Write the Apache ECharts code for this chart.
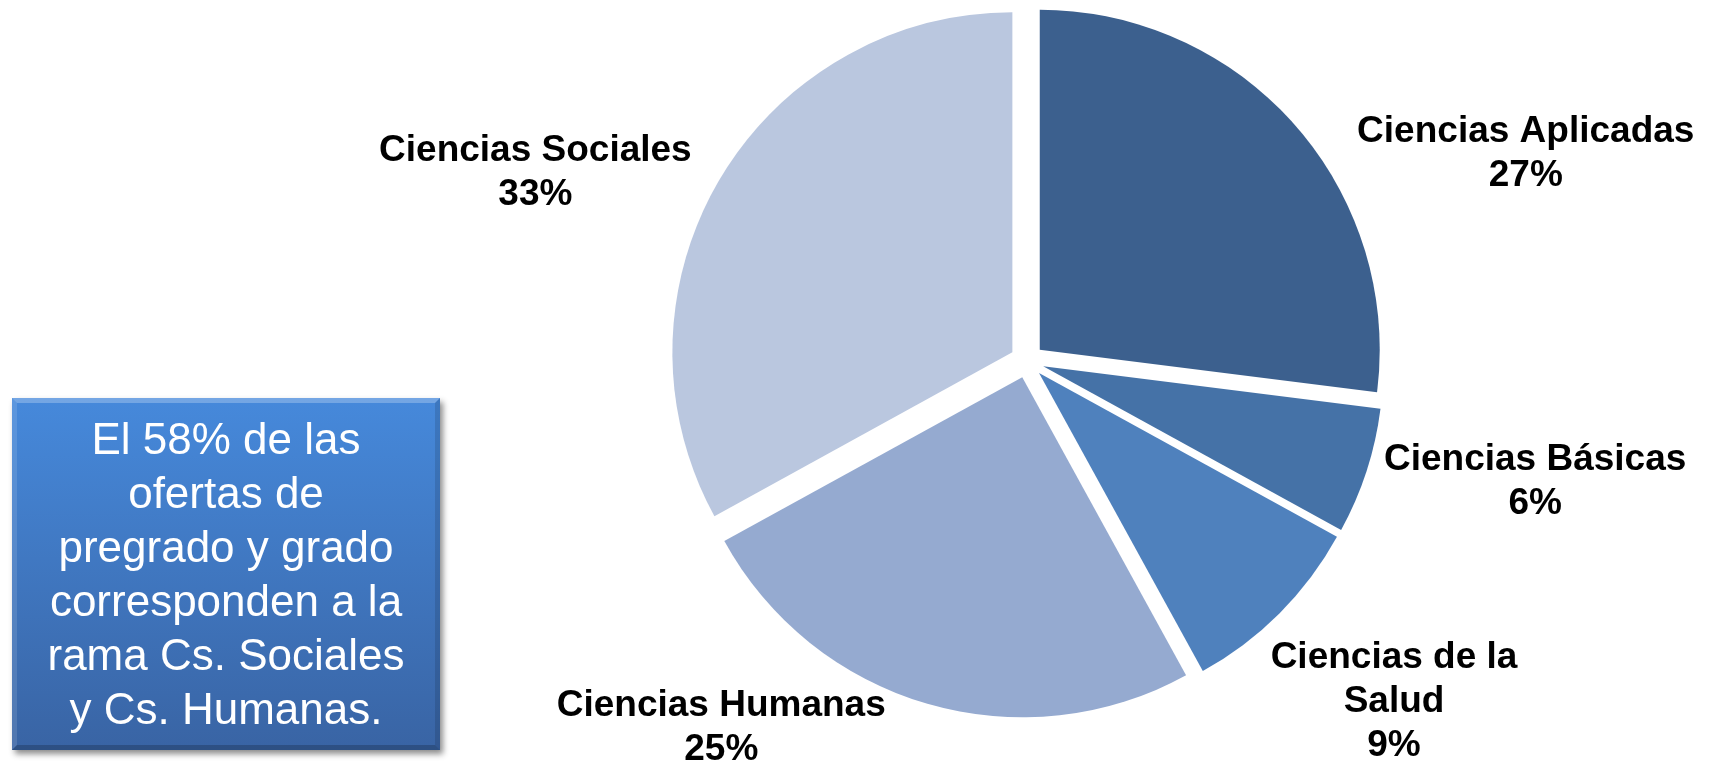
<!DOCTYPE html>
<html>
<head>
<meta charset="utf-8">
<script src="https://cdn.jsdelivr.net/npm/echarts@6/dist/echarts.min.js"></script>
<style>
html,body{margin:0;padding:0;background:#fff;}
#chart{width:1711px;height:761px;}
</style>
</head>
<body>
<div id="chart"></div>
<script>
// ---- data ----
const categories = ['Ciencias Aplicadas', 'Ciencias Básicas', 'Ciencias de la\nSalud', 'Ciencias Humanas', 'Ciencias Sociales'];
const values = [27, 6, 9, 25, 33];
const noteText = 'El 58% de las\nofertas de\npregrado y grado\ncorresponden a la\nrama Cs. Sociales\ny Cs. Humanas.';

// ---- styles / layout ----
const sliceColors = ['#3C608E', '#4572A7', '#4F81BD', '#95AAD0', '#BAC7DF'];
const labelAnchors = [[1513, 165], [1519, 477], [1382, 690], [726, 711], [550, 181]];
const LABEL_BOX = 360;

const chart = echarts.init(document.getElementById('chart'), null, {renderer: 'canvas'});
chart.setOption({
  animation: false,
  backgroundColor: '#ffffff',
  series: [{
    type: 'pie',
    center: [1027, 361],
    radius: 340,
    startAngle: 90,
    clockwise: true,
    selectedMode: 'multiple',
    selectedOffset: 17,
    avoidLabelOverlap: false,
    emphasis: {disabled: true},
    itemStyle: {borderWidth: 0},
    labelLine: {show: false},
    label: {
      show: true,
      position: 'outside',
      formatter: p => p.name.split('\n').concat([p.value + '%']).map(s => '{t|' + s + '}').join('\n'),
      overflow: 'none',
      rich: {
        t: {
          width: LABEL_BOX,
          align: 'center',
          fontFamily: 'Liberation Sans, Arial, sans-serif',
          fontWeight: 'bold',
          fontSize: 37,
          lineHeight: 44,
          color: '#000'
        }
      }
    },
    labelLayout: function (params) {
      const a = labelAnchors[params.dataIndex];
      const r = params.labelRect;
      return {
        dx: a[0] - (r.x + r.width / 2),
        dy: a[1] - (r.y + r.height / 2)
      };
    },
    data: categories.map((c, i) => ({
      name: c,
      value: values[i],
      selected: true,
      itemStyle: {color: sliceColors[i]}
    }))
  }],
  graphic: [
    {
      type: 'rect',
      shape: {x: 12, y: 398, width: 428, height: 352},
      style: {
        fill: new echarts.graphic.LinearGradient(0, 0, 0, 1, [
          {offset: 0, color: '#4689DB'},
          {offset: 1, color: '#3964A4'}
        ]),
        shadowColor: 'rgba(0,0,0,0.45)',
        shadowBlur: 6,
        shadowOffsetX: 3,
        shadowOffsetY: 4
      },
      z: 10
    },
    {
      type: 'polygon',
      shape: {points: [[12, 398], [440, 398], [435, 403], [17, 403]]},
      style: {fill: 'rgba(255,255,255,0.25)'},
      z: 11
    },
    {
      type: 'polygon',
      shape: {points: [[12, 398], [17, 403], [17, 745], [12, 750]]},
      style: {fill: 'rgba(255,255,255,0.12)'},
      z: 11
    },
    {
      type: 'polygon',
      shape: {points: [[12, 750], [17, 745], [435, 745], [440, 750]]},
      style: {fill: 'rgba(0,0,0,0.2)'},
      z: 11
    },
    {
      type: 'polygon',
      shape: {points: [[440, 398], [440, 750], [435, 745], [435, 403]]},
      style: {fill: 'rgba(0,0,0,0.12)'},
      z: 11
    },
    {
      type: 'text',
      x: 226,
      y: 577,
      style: {
        text: noteText,
        fill: '#ffffff',
        fontFamily: 'Liberation Sans, Arial, sans-serif',
        fontSize: 44,
        lineHeight: 54,
        align: 'center',
        verticalAlign: 'middle'
      },
      z: 12
    }
  ]
});
</script>
</body>
</html>
